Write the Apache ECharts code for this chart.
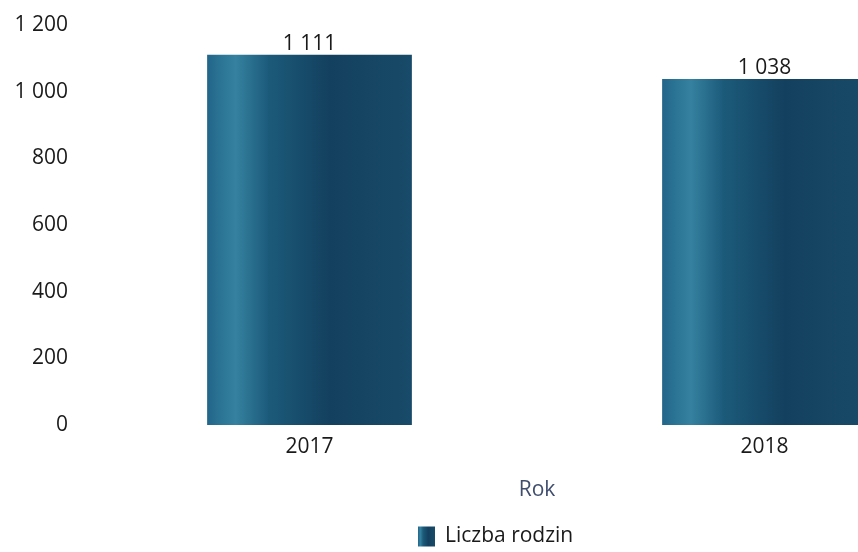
<!DOCTYPE html>
<html>
<head>
<meta charset="utf-8">
<script src="https://cdn.jsdelivr.net/npm/echarts@6/dist/echarts.min.js"></script>
<style>
  html, body { margin: 0; padding: 0; background: #fff; overflow: hidden; }
  /* wykres szerszy niż okno – prawy słupek jest ucięty jak w oryginale */
  #chart { width: 992px; height: 552px; }
</style>
</head>
<body>
<div id="chart"></div>
<script>
const years = ['2017', '2018'];
const families = [1111, 1038];
const yTicks = [0, 200, 400, 600, 800, 1000, 1200];

// liczby z odstępem jako separatorem tysięcy
const fmt = v => String(v).replace(/\B(?=(\d{3})+(?!\d))/g, ' ');

const barColor = {
    type: 'linear', x: 0, y: 0, x2: 1, y2: 0,
    colorStops: [
        { offset: 0, color: '#22658a' },
        { offset: 0.07, color: '#2c7595' },
        { offset: 0.14, color: '#35819f' },
        { offset: 0.3, color: '#1c5a7a' },
        { offset: 0.6, color: '#13405e' },
        { offset: 1, color: '#184b69' }
    ]
};

const chart = echarts.init(document.getElementById('chart'));
chart.setOption({
    animation: false,
    textStyle: { fontFamily: 'Open Sans' },
    grid: { left: 82, right: 0, top: 25, bottom: 127, containLabel: false },
    xAxis: {
        type: 'category',
        data: years,
        name: 'Rok',
        nameLocation: 'middle',
        nameGap: 55,
        nameTextStyle: { fontSize: 21, color: '#3f4d6e', fontFamily: 'Open Sans' },
        axisLine: { show: false },
        axisTick: { show: false },
        axisLabel: { fontSize: 21, color: '#1a1a1a', margin: 12 }
    },
    yAxis: {
        type: 'value',
        min: yTicks[0],
        max: yTicks[yTicks.length - 1],
        interval: 200,
        splitLine: { show: false },
        axisLine: { show: false },
        axisTick: { show: false },
        axisLabel: { fontSize: 21, color: '#1a1a1a', margin: 14, formatter: fmt }
    },
    legend: {
        bottom: 0,
        left: 413,
        itemWidth: 17,
        itemHeight: 20,
        icon: 'rect',
        textStyle: { fontSize: 21, color: '#1a1a1a', padding: [0, 0, 0, 5] },
        data: ['Liczba rodzin']
    },
    series: [{
        name: 'Liczba rodzin',
        type: 'bar',
        data: families,
        barWidth: '45%',
        itemStyle: { color: barColor },
        label: {
            show: true,
            position: 'top',
            distance: 0,
            fontSize: 21,
            color: '#1a1a1a',
            formatter: p => fmt(p.value)
        }
    }]
});
</script>
</body>
</html>
